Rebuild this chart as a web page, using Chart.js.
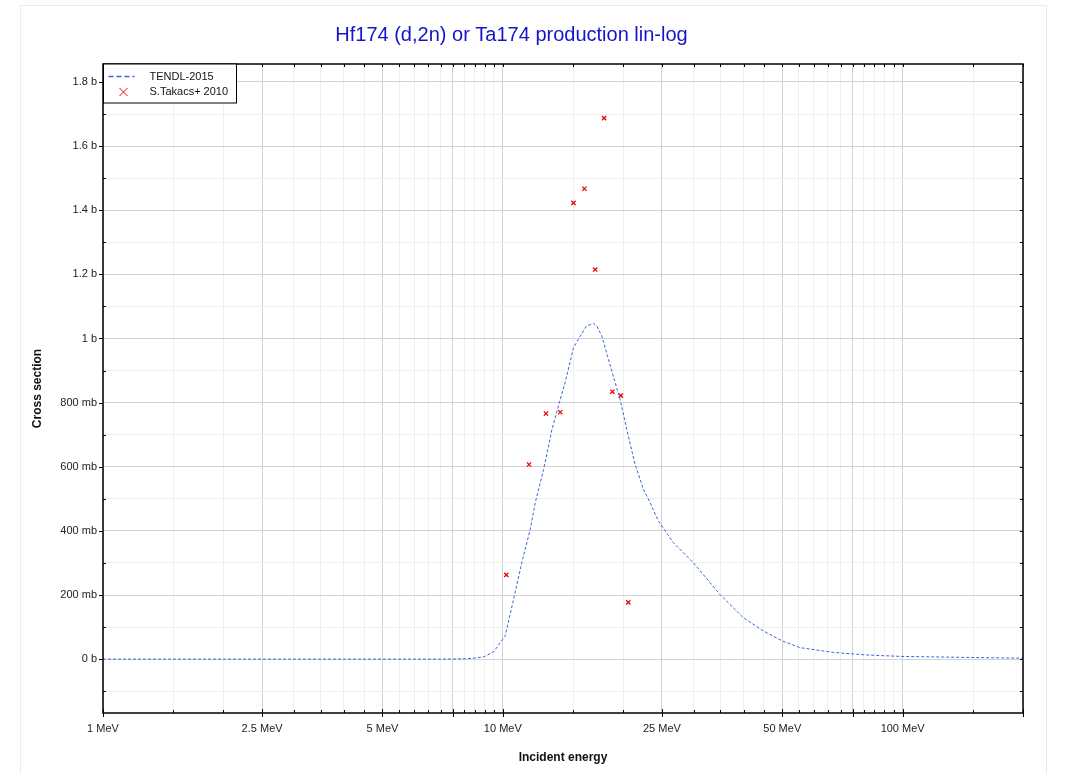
<!DOCTYPE html>
<html>
<head>
<meta charset="utf-8">
<script src="https://cdn.jsdelivr.net/npm/chart.js@4.4.1/dist/chart.umd.min.js"></script>
<style>
  html, body { margin: 0; padding: 0; background: #fff; overflow: hidden; }
  #frame { position: absolute; left: 20px; top: 5px; width: 1027px; height: 800px; border: 1px solid #ececec; box-sizing: border-box; }
  #c { position: absolute; left: 0; top: 0; }
</style>
</head>
<body>
<div id="frame"></div>
<canvas id="c" width="1071" height="774"></canvas>
<script>
// ---- Data ----
const tendlEnergy = [1, 2, 3, 4, 5, 6, 7, 7.5, 8, 8.5, 9, 9.5, 9.86, 10.14, 10.64, 11.16, 11.71, 12.06, 12.65, 13.27, 13.92, 14.32, 15.02, 15.62, 16.16, 16.86, 17.19, 17.69, 18.37, 19.1, 19.65, 20.42, 21.42, 22.47, 23.35, 24.49, 26.7, 29.95, 34.9, 39.9, 44.8, 49.96, 55.3, 67, 81.1, 99.6, 119, 150, 200];
const tendlSigma  = [0, 0, 0, 0, 0, 0, 0, 0.3, 1, 3, 8, 24, 52, 73, 187, 302, 405, 489, 592, 716, 810, 863, 971, 1007, 1038, 1047, 1038, 1007, 935, 862, 810, 716, 607, 530, 488, 431, 363, 301, 202, 130, 88, 57, 36, 21, 13, 8.4, 7, 5, 3];

const expEnergy = [17.92, 16.0, 15.02, 17.02, 18.8, 19.73, 12.82, 13.92, 11.63, 10.2, 20.6];
const expSigma  = [1687, 1467, 1423, 1215, 834, 822, 766, 770, 607, 263, 177];

const seriesLabels = ['TENDL-2015', 'S.Takacs+ 2010'];

const xTickValues = [1, 1.5, 2, 2.5, 3, 3.5, 4, 4.5, 5, 5.5, 6, 6.5, 7, 7.5, 8, 8.5, 9, 9.5, 10, 15, 20, 25, 30, 35, 40, 45, 50, 55, 60, 65, 70, 75, 80, 85, 90, 95, 100, 150, 200];
const xMajorValues = [1, 2.5, 5, 7.5, 10, 25, 50, 75, 100, 200];
const xLabelValues = [1, 2.5, 5, 10, 25, 50, 100];
const xLabelTexts  = ['1 MeV', '2.5 MeV', '5 MeV', '10 MeV', '25 MeV', '50 MeV', '100 MeV'];

const yTickValues = [-100, 0, 100, 200, 300, 400, 500, 600, 700, 800, 900, 1000, 1100, 1200, 1300, 1400, 1500, 1600, 1700, 1800];
const yLabelValues = [0, 200, 400, 600, 800, 1000, 1200, 1400, 1600, 1800];
const yLabelTexts  = ['0 b', '200 mb', '400 mb', '600 mb', '800 mb', '1 b', '1.2 b', '1.4 b', '1.6 b', '1.8 b'];

const FONT = "'Liberation Sans', Arial, sans-serif";
const LINE_COLOR = 'rgb(60,100,220)';
const MAJOR_GRID = '#d2d2d2';
const MINOR_GRID = '#efefef';

const tendlPoints = tendlEnergy.map((e, i) => ({ x: e, y: tendlSigma[i] }));
const expPoints = expEnergy.map((e, i) => ({ x: e, y: expSigma[i] }));

function near(list, v) { return list.some(t => Math.abs(t - v) < 1e-6); }

const framePlugin = {
  id: 'frameTicks',
  afterDraw(chart) {
    const { ctx, chartArea: a, scales } = chart;
    const xs = scales.x, ys = scales.y;
    ctx.save();
    ctx.strokeStyle = '#000';
    ctx.lineWidth = 1;
    ctx.beginPath();
    xTickValues.forEach(v => {
      const p = Math.round(xs.getPixelForValue(v)) + 0.5;
      if (near(xMajorValues, v)) {
        ctx.moveTo(p, a.bottom + 4); ctx.lineTo(p, a.bottom - 4);
      } else {
        ctx.moveTo(p, a.bottom); ctx.lineTo(p, a.bottom - 3);
      }
      ctx.moveTo(p, a.top); ctx.lineTo(p, a.top + 3);
    });
    yTickValues.forEach(v => {
      const p = Math.round(ys.getPixelForValue(v)) + 0.5;
      if (near(yLabelValues, v)) {
        ctx.moveTo(a.left - 4, p); ctx.lineTo(a.left, p);
      } else {
        ctx.moveTo(a.left, p); ctx.lineTo(a.left + 3, p);
      }
      ctx.moveTo(a.right, p); ctx.lineTo(a.right - 3, p);
    });
    ctx.stroke();
    ctx.lineWidth = 1.5;
    ctx.strokeRect(a.left, a.top, a.right - a.left, a.bottom - a.top);

    // legend box
    const lx = a.left + 0.5, ly = a.top, lw = 133, lh = 39;
    ctx.fillStyle = '#fff';
    ctx.fillRect(lx, ly, lw, lh);
    ctx.lineWidth = 1;
    ctx.strokeStyle = '#000';
    ctx.strokeRect(lx, ly, lw, lh);
    ctx.strokeStyle = LINE_COLOR;
    ctx.lineWidth = 1.5;
    ctx.setLineDash([5, 3]);
    ctx.beginPath();
    ctx.moveTo(lx + 5, ly + 12.5); ctx.lineTo(lx + 31, ly + 12.5);
    ctx.stroke();
    ctx.setLineDash([]);
    ctx.strokeStyle = 'red';
    ctx.lineWidth = 1;
    const cx = lx + 20, cy = ly + 28, r = 4;
    ctx.beginPath();
    ctx.moveTo(cx - r, cy - r); ctx.lineTo(cx + r, cy + r);
    ctx.moveTo(cx + r, cy - r); ctx.lineTo(cx - r, cy + r);
    ctx.stroke();
    ctx.fillStyle = '#111';
    ctx.font = '11px ' + FONT;
    ctx.textBaseline = 'middle';
    ctx.textAlign = 'left';
    ctx.fillText(seriesLabels[0], lx + 46, ly + 13);
    ctx.fillText(seriesLabels[1], lx + 46, ly + 28);
    ctx.restore();
  }
};

new Chart(document.getElementById('c'), {
  type: 'scatter',
  data: {
    datasets: [
      {
        label: seriesLabels[0],
        data: tendlPoints,
        showLine: true,
        borderColor: LINE_COLOR,
        backgroundColor: LINE_COLOR,
        borderWidth: 1,
        borderDash: [3, 2],
        pointRadius: 0,
        tension: 0
      },
      {
        label: seriesLabels[1],
        data: expPoints,
        showLine: false,
        pointStyle: 'crossRot',
        pointRadius: 3,
        borderColor: 'rgb(240,0,0)',
        backgroundColor: 'rgb(240,0,0)',
        borderWidth: 1.3
      }
    ]
  },
  options: {
    responsive: false,
    animation: false,
    layout: { padding: { left: 0, right: 48, top: 0, bottom: 0 } },
    plugins: {
      legend: { display: false },
      tooltip: { enabled: false },
      title: {
        display: true,
        text: 'Hf174 (d,2n) or Ta174 production lin-log',
        color: '#1414c8',
        font: { family: FONT, size: 20, weight: 'normal' },
        padding: { top: 23, bottom: 17 }
      }
    },
    scales: {
      x: {
        type: 'logarithmic',
        min: 1,
        max: 200,
        border: { display: false },
        afterBuildTicks(scale) { scale.ticks = xTickValues.map(v => ({ value: v })); },
        afterFit(scale) { scale.height = 61; },
        grid: {
          drawTicks: false,
          color: c => (c.tick && near(xMajorValues, c.tick.value)) ? MAJOR_GRID : MINOR_GRID,
          lineWidth: 1
        },
        ticks: {
          autoSkip: false,
          maxRotation: 0,
          padding: 9,
          color: '#222',
          font: { family: FONT, size: 11 },
          callback: v => { const i = xLabelValues.findIndex(t => Math.abs(t - v) < 1e-6); return i >= 0 ? xLabelTexts[i] : ''; }
        },
        title: {
          display: true,
          text: 'Incident energy',
          color: '#111',
          font: { family: FONT, size: 12, weight: 'bold' },
          padding: { top: 0, bottom: 9 }
        }
      },
      y: {
        type: 'linear',
        min: -168,
        max: 1856,
        border: { display: false },
        afterBuildTicks(scale) { scale.ticks = yTickValues.map(v => ({ value: v })); },
        afterFit(scale) { scale.width = 103; },
        grid: {
          drawTicks: false,
          color: c => (c.tick && near(yLabelValues, c.tick.value)) ? MAJOR_GRID : MINOR_GRID,
          lineWidth: 1
        },
        ticks: {
          autoSkip: false,
          padding: 6,
          color: '#222',
          font: { family: FONT, size: 11 },
          callback: v => { const i = yLabelValues.findIndex(t => Math.abs(t - v) < 1e-6); return i >= 0 ? yLabelTexts[i] : ''; }
        },
        title: {
          display: true,
          text: 'Cross section',
          color: '#111',
          font: { family: FONT, size: 12, weight: 'bold' },
          padding: { top: 30, bottom: 0 }
        }
      }
    }
  },
  plugins: [framePlugin]
});
</script>
</body>
</html>
